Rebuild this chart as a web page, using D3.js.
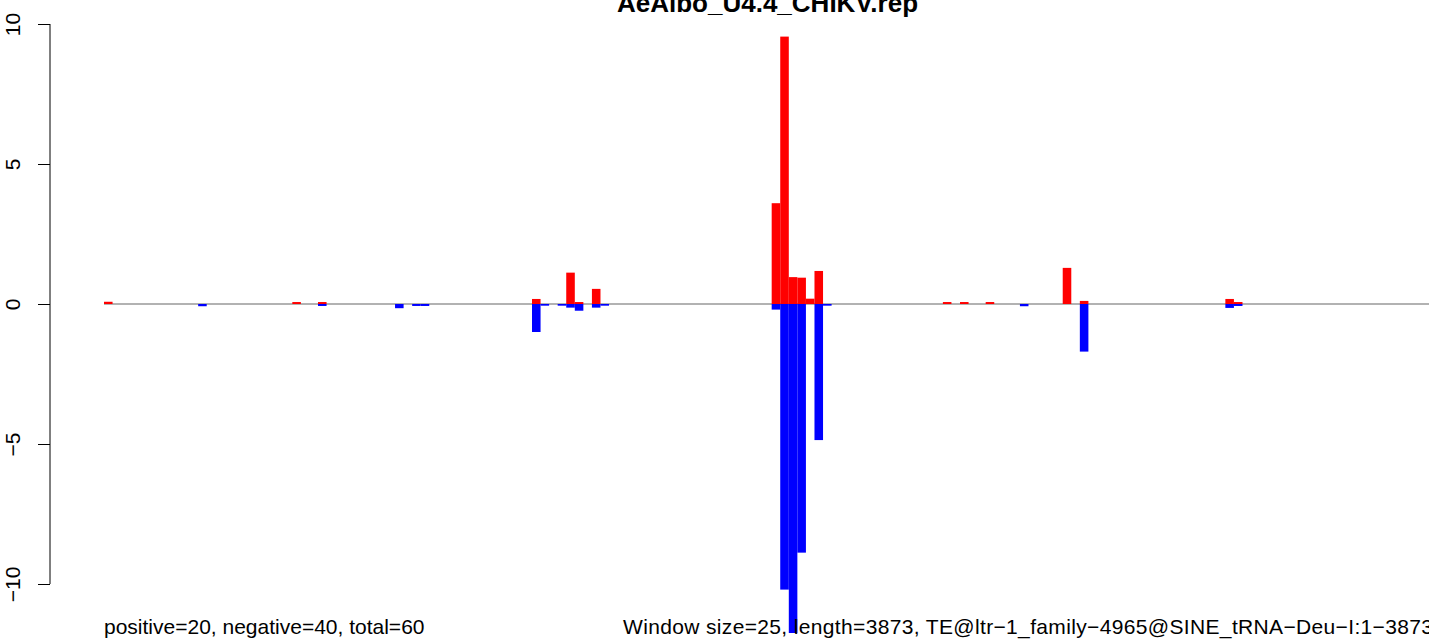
<!DOCTYPE html>
<html>
<head>
<meta charset="utf-8">
<script src="https://cdn.jsdelivr.net/npm/d3@7"></script>
<style>
  html, body { margin: 0; padding: 0; background: #fff; overflow: hidden; }
  svg { display: block; }
  text { font-family: "Liberation Sans", Arial, Helvetica, sans-serif; }
</style>
</head>
<body>
<svg id="chart" width="1429" height="639"></svg>
<script>
// ---- data ----
const title = "AeAlbo_U4.4_CHIKV.rep";
const nWindows = 155;
const posIdx = [0, 22, 25, 50, 54, 55, 57, 78, 79, 80, 81, 82, 83, 98, 100, 103, 112, 114, 131, 132];
const posVal = [0.08, 0.07, 0.07, 0.18, 1.12, 0.07, 0.54, 3.6, 9.55, 0.96, 0.94, 0.19, 1.18, 0.07, 0.07, 0.07, 1.29, 0.11, 0.18, 0.07];
const negIdx = [11, 25, 34, 36, 37, 50, 51, 53, 54, 55, 57, 58, 78, 79, 80, 81, 83, 84, 107, 114, 131, 132];
const negVal = [-0.08, -0.07, -0.15, -0.07, -0.07, -1.0, -0.06, -0.06, -0.13, -0.24, -0.13, -0.06, -0.2, -10.2, -11.75, -8.88, -4.86, -0.06, -0.08, -1.7, -0.14, -0.07];
const yTicks = [-10, -5, 0, 5, 10];
const yTickLabels = ["\u221210", "\u22125", "0", "5", "10"];
const leftNote = "positive=20, negative=40, total=60";
const rightNote = "Window size=25, length=3873, TE@ltr\u22121_family\u22124965@SINE_tRNA\u2212Deu\u2212I:1\u22123873";

// ---- layout ----
const svg = d3.select("#chart");
const plotLeft = 50, plotRight = 1485;
const x = d3.scaleLinear().domain([0, nWindows]).range([104, 104 + nWindows * 8.56]);
const y = d3.scaleLinear().domain([-10, 10]).range([584, 24]);

// zero line
svg.append("line")
  .attr("x1", x(0)).attr("x2", x(nWindows))
  .attr("y1", y(0)).attr("y2", y(0))
  .attr("stroke", "#999").attr("stroke-width", 1.5);

const pos = posIdx.map((i, k) => ({ i, v: posVal[k] }));
const neg = negIdx.map((i, k) => ({ i, v: negVal[k] }));

svg.append("g").selectAll("rect").data(pos).join("rect")
  .attr("x", d => x(d.i))
  .attr("width", d => x(d.i + 1) - x(d.i))
  .attr("y", d => y(d.v))
  .attr("height", d => y(0) - y(d.v))
  .attr("fill", "#ff0000");

svg.append("g").selectAll("rect").data(neg).join("rect")
  .attr("x", d => x(d.i))
  .attr("width", d => x(d.i + 1) - x(d.i))
  .attr("y", y(0))
  .attr("height", d => y(d.v) - y(0))
  .attr("fill", "#0000ff");

// y axis
const yAxis = d3.axisLeft(y).tickValues(yTicks).tickSize(12).tickFormat((d, k) => yTickLabels[k]);
const ga = svg.append("g").attr("transform", `translate(${plotLeft},0)`).call(yAxis);
ga.select(".domain").attr("stroke", "#000").attr("fill", "none")
  .attr("d", `M0,${y(10)}V${y(-10)}`);
ga.selectAll(".tick line").attr("stroke", "#000");
ga.selectAll(".tick text")
  .attr("x", null).attr("dy", null)
  .attr("transform", "translate(-30,0) rotate(-90)")
  .attr("text-anchor", "middle")
  .attr("font-size", 21)
  .attr("font-family", "'Liberation Sans', Arial, sans-serif")
  .attr("fill", "#000");

// title
svg.append("text")
  .attr("x", (plotLeft + plotRight) / 2).attr("y", 12)
  .attr("text-anchor", "middle")
  .attr("font-size", 26).attr("font-weight", "bold")
  .text(title);

// bottom notes
svg.append("text")
  .attr("x", x(0)).attr("y", 634)
  .attr("text-anchor", "start").attr("font-size", 21)
  .text(leftNote);
svg.append("text")
  .attr("x", 623).attr("y", 634)
  .attr("text-anchor", "start").attr("font-size", 21)
  .attr("textLength", 810).attr("lengthAdjust", "spacing")
  .text(rightNote);
</script>
</body>
</html>
